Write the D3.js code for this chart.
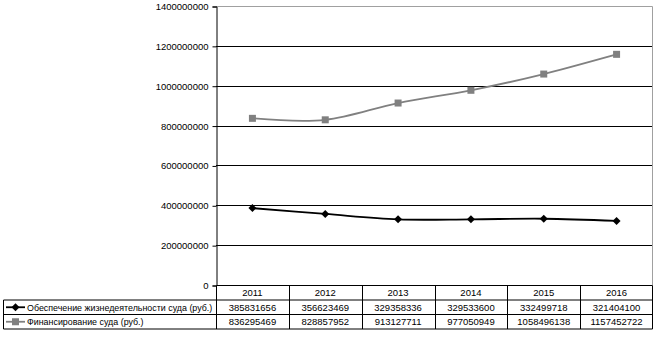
<!DOCTYPE html>
<html>
<head>
<meta charset="utf-8">
<script src="https://cdnjs.cloudflare.com/ajax/libs/d3/7.8.5/d3.min.js"></script>
<style>
  body { margin: 0; background: #fff; }
  svg text { font-family: "Liberation Sans", Arial, sans-serif; font-size: 9.5px; fill: #000; }
</style>
</head>
<body>
<div id="container"></div>
<script>
const width = 656,
  height = 337,
  margin = { top: 6, left: 216, right: 3 },
  plotBottom = 285,
  rowH = 14.5;

// data
const years = ["2011", "2012", "2013", "2014", "2015", "2016"];
const upkeep = [385831656, 356623469, 329358336, 329533600, 332499718, 321404100];
const funding = [836295469, 828857952, 913127711, 977050949, 1058496138, 1157452722];
const seriesNames = ["Обеспечение жизнедеятельности суда (руб.)", "Финансирование суда (руб.)"];
const yTicks = [0, 200000000, 400000000, 600000000, 800000000, 1000000000, 1200000000, 1400000000];

const series = [
  { name: seriesNames[0], values: upkeep, color: "#000", marker: "diamond" },
  { name: seriesNames[1], values: funding, color: "#808080", marker: "square" }
];

/* SCALES */
const xScale = d3.scaleBand()
  .domain(years)
  .range([margin.left, width - margin.right])

const yScale = d3.scaleLinear()
  .domain([0, 1400000000])
  .range([plotBottom, margin.top])

const svg = d3.select("#container")
  .append("svg")
  .attr("width", width)
  .attr("height", height)

// gridlines
svg.selectAll(".grid")
  .data(yTicks.slice(1, -1))
  .join("line")
  .attr("x1", margin.left)
  .attr("x2", width - margin.right)
  .attr("y1", d => Math.round(yScale(d)) + 0.5)
  .attr("y2", d => Math.round(yScale(d)) + 0.5)
  .attr("stroke", "#000")

// plot frame (top and right, gray)
const xR = Math.round(width - margin.right) - 0.5
svg.append("path")
  .attr("d", `M${margin.left},${margin.top + 0.5}H${xR}V${plotBottom}`)
  .attr("fill", "none")
  .attr("stroke", "#a0a0a0")

// y axis
const yAxis = d3.axisLeft(yScale)
  .tickValues(yTicks)
  .tickFormat(d3.format("d"))
  .tickSize(4)
  .tickPadding(4)
svg.append("g")
  .attr("transform", `translate(${margin.left + 0.5}, 0.5)`)
  .call(yAxis)
  .call(g => g.selectAll("path, line").attr("stroke", "#000"))
  .call(g => g.selectAll("text").attr("font-size", null).attr("font-family", null))

// lines
const line = d3.line()
  .x((d, i) => xScale(years[i]) + xScale.bandwidth() / 2)
  .y(d => yScale(d))
  .curve(d3.curveCatmullRom.alpha(0.5))

series.forEach(s => {
  svg.append("path")
    .datum(s.values)
    .attr("fill", "none")
    .attr("stroke", s.color)
    .attr("stroke-width", 1.8)
    .attr("d", line)
})

function drawMarker(g, type, x, y, color) {
  if (type === "diamond") {
    g.append("path")
      .attr("d", `M${x},${y - 4}L${x + 4},${y}L${x},${y + 4}L${x - 4},${y}Z`)
      .attr("fill", color)
  } else {
    g.append("rect")
      .attr("x", x - 3.5).attr("y", y - 3.5)
      .attr("width", 7).attr("height", 7)
      .attr("fill", color)
  }
}

series.forEach(s => {
  const g = svg.append("g")
  s.values.forEach((v, i) => drawMarker(g, s.marker, xScale(years[i]) + xScale.bandwidth() / 2, yScale(v), s.color))
})

/* DATA TABLE */
const table = svg.append("g").attr("stroke", "#000").attr("fill", "none")
const tableLeft = 3.5,
  tRight = xR,
  y0 = plotBottom + 0.5,
  y1 = y0 + rowH,
  y2 = y1 + rowH,
  y3 = y2 + rowH

table.append("path")
  .attr("d", `M${margin.left + 0.5},${y0}H${tRight}V${y3}H${tableLeft}V${y1}H${tRight}M${tableLeft},${y2}H${tRight}`)

table.selectAll(".vline")
  .data(years)
  .join("line")
  .attr("x1", d => Math.round(xScale(d)) + 0.5)
  .attr("x2", d => Math.round(xScale(d)) + 0.5)
  .attr("y1", y0)
  .attr("y2", y3)

svg.selectAll(".yearLabel")
  .data(years)
  .join("text")
  .attr("x", d => xScale(d) + xScale.bandwidth() / 2)
  .attr("y", y0 + rowH / 2 + 3.5)
  .attr("text-anchor", "middle")
  .text(d => d)

series.forEach((s, r) => {
  const yc = y1 + rowH * r + rowH / 2
  svg.selectAll(".val" + r)
    .data(s.values)
    .join("text")
    .attr("x", (d, i) => xScale(years[i]) + xScale.bandwidth() / 2)
    .attr("y", yc + 3.5)
    .attr("text-anchor", "middle")
    .text(d => d)

  // legend key
  const g = svg.append("g")
  g.append("line")
    .attr("x1", 6).attr("x2", 25)
    .attr("y1", yc).attr("y2", yc)
    .attr("stroke", s.color)
    .attr("stroke-width", 1.8)
  drawMarker(g, s.marker, 15.5, yc, s.color)
  g.append("text")
    .attr("x", 27)
    .attr("y", yc + 3.5)
    .style("font-size", "8.9px")
    .text(s.name)
})
</script>
</body>
</html>
